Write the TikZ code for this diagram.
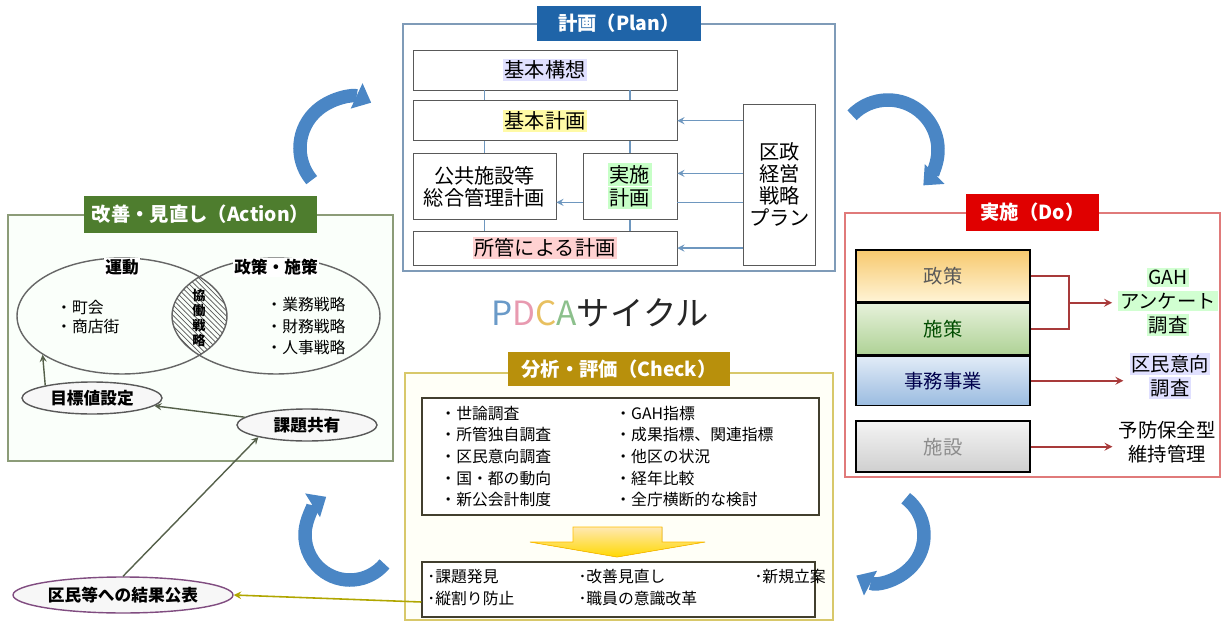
\documentclass[tikz,border=0pt]{standalone}
\usepackage{fontspec}
\setmainfont{Noto Sans CJK JP}
\usetikzlibrary{positioning,shapes.geometric,arrows.meta,patterns}

\definecolor{planblue}{HTML}{1F64A8}
\definecolor{planline}{HTML}{7F9BB8}
\definecolor{actgreen}{HTML}{4E7D2E}
\definecolor{actline}{HTML}{8C9C78}
\definecolor{dored}{HTML}{E00000}
\definecolor{doline}{HTML}{E07A7A}
\definecolor{chkgold}{HTML}{B8900C}
\definecolor{chkline}{HTML}{D8C86A}
\definecolor{cycblue}{HTML}{4A86C5}
\definecolor{linkblue}{HTML}{6E97BF}
\definecolor{linkred}{HTML}{A83A3A}
\definecolor{linkgray}{HTML}{55604A}
\definecolor{pdcaP}{HTML}{6A9AC8}
\definecolor{pdcaD}{HTML}{E89AB0}
\definecolor{pdcaC}{HTML}{E8C060}
\definecolor{pdcaA}{HTML}{8CC08C}
\definecolor{seiTop}{HTML}{F7C96E}
\definecolor{seiBot}{HTML}{FFF4D6}
\definecolor{shiTop}{HTML}{E6F1DA}
\definecolor{shiBot}{HTML}{AFD296}
\definecolor{jimTop}{HTML}{E2ECF7}
\definecolor{jimBot}{HTML}{9ABBE0}
\definecolor{setTop}{HTML}{F4F4F4}
\definecolor{setBot}{HTML}{CFCFCF}

\newcommand{\glowtext}[2]{{\setlength{\fboxsep}{1pt}\colorbox{#1}{#2}}}
\newcommand{\fsz}[2]{\fontsize{#1}{#2}\selectfont}

\begin{document}
\begin{tikzpicture}[
    x = 0.02cm, y = -0.02cm,
    >=stealth,
    boxframe/.style = {draw, line width=0.9pt, inner sep=0pt},
    titletab/.style = {text=white, inner sep=0pt, font=\bfseries\fsz{11}{13}},
    pbox/.style = {draw=gray!70!black, fill=white, inner sep=0pt, align=center, font=\fsz{11.5}{12.5}},
    plink/.style = {draw=linkblue, line width=0.8pt},
    dobox/.style = {draw=black, line width=0.8pt, minimum width=3.48cm, minimum height=1.02cm, inner sep=0pt, font=\fsz{11}{13}},
    dolink/.style = {draw=linkred, line width=1pt},
    dotext/.style = {align=center, font=\fsz{11}{13.5}},
    venn/.style = {ellipse, draw=gray!80!black, line width=0.8pt, inner sep=0pt},
    vennlabel/.style = {fill=white, inner sep=1pt, font=\bfseries\fsz{9.5}{11}},
    bubble/.style = {ellipse, draw=gray!70!black, fill=gray!6, line width=0.8pt, inner sep=0pt, font=\bfseries\fsz{9.5}{11}},
    alink/.style = {draw=linkgray, line width=0.8pt},
    chkbox/.style = {draw=black!70!olive, fill=white, line width=0.9pt, inner sep=0pt},
    chktext/.style = {align=left, font=\fsz{9}{12.3}},
    cyclearrow/.style = {draw=cycblue, line width=0.27cm, -{Triangle[width=0.56cm, length=0.32cm, line width=0pt]}}
  ]
\useasboundingbox (0,0) rectangle (1228,622);
% plan
\node[boxframe, draw=planline, minimum width=8.64cm, minimum height=4.94cm] (planfr) at (619,147.5) {};
\node[titletab, fill=planblue, minimum width=3.28cm, minimum height=0.7cm] (plantab) at (planfr.north) {計画（Plan）};
\node[pbox, minimum width=5.28cm, minimum height=0.8cm] (kousou) at (545,70) {\glowtext{blue!12}{基本構想}};
\node[pbox, minimum width=5.28cm, minimum height=0.8cm, below=0.2cm of kousou] (keikaku) {\glowtext{yellow!35}{基本計画}};
\node[pbox, minimum width=2.86cm, minimum height=1.32cm, below right=0.24cm and 0cm of keikaku.south west] (kokyo) {公共施設等\\総合管理計画};
\node[pbox, minimum width=1.88cm, minimum height=1.32cm, below left=0.24cm and 0cm of keikaku.south east] (jisshi) {\glowtext{green!22}{実施}\\\glowtext{green!22}{計画}};
\node[pbox, minimum width=5.28cm, minimum height=0.68cm, anchor=north] (shokan) at ([yshift=-0.22cm]keikaku |- kokyo.south) {\glowtext{red!18}{所管による計画}};
\node[pbox, minimum width=1.44cm, minimum height=3.22cm, anchor=south west] (senryaku) at ([xshift=1.32cm]shokan.south east) {区政\\経営\\戦略\\プラン};
% plan links
\foreach \n in {kokyo, jisshi} {
  \draw[plink] (kousou.south -| \n) -- (keikaku.north -| \n);
  \draw[plink] (keikaku.south -| \n) -- (\n.north);
  \draw[plink] (\n.south) -- (shokan.north -| \n);
}
\coordinate (jup) at ([yshift=0.26cm]jisshi.east);
\coordinate (jdn) at ([yshift=-0.32cm]jisshi.east);
\draw[plink, ->] (senryaku.west |- keikaku) -- (keikaku.east);
\draw[plink, ->] (senryaku.west |- jup) -- (jup);
\draw[plink] (senryaku.west |- jdn) -- (jdn);
\draw[plink, ->] (jdn -| jisshi.west) -- (jdn -| kokyo.east);
\draw[plink, ->] (senryaku.west |- shokan) -- (shokan.east);
% title
\node[font=\fsz{19}{22}] (pdca) at (600,313) {\textcolor{pdcaP}{P}\textcolor{pdcaD}{D}\textcolor{pdcaC}{C}\textcolor{pdcaA}{A}\textcolor{black!85}{サイクル}};
% action
\node[boxframe, draw=actline, fill=green!2, minimum width=7.7cm, minimum height=4.92cm] (actfr) at (200.5,338) {};
\node[titletab, fill=actgreen, minimum width=4.66cm, minimum height=0.74cm] (acttab) at (actfr.north) {改善・見直し（Action）};
\node[venn, minimum width=4.2cm, minimum height=2.32cm] (undou) at (122,316) {};
\node[venn, minimum width=4.16cm, minimum height=2.32cm] (sesaku) at (276,316) {};
\begin{scope}
  \clip (undou.center) ellipse[x radius=105, y radius=58];
  \fill[pattern=north west lines, pattern color=gray!70!black] (sesaku.center) ellipse[x radius=104, y radius=58];
\end{scope}
\node[vennlabel] at ([yshift=-0.2cm]undou.north) {運動};
\node[vennlabel] at ([yshift=-0.2cm]sesaku.north) {政策・施策};
\node[anchor=west, align=left, font=\fsz{9}{11}] (chiiki) at (50,317) {・町会\\・商店街};
\node[align=left, font=\fsz{9}{12}] (senryakus) at (306,326) {・業務戦略\\・財務戦略\\・人事戦略};
\node[align=center, font=\bfseries\fsz{7.5}{8.5}] (kyoudou) at (199,318) {協\\働\\戦\\略};
\node[bubble, minimum width=2.8cm, minimum height=0.64cm] (mokuhyou) at (92,398) {目標値設定};
\node[bubble, minimum width=2.8cm, minimum height=0.64cm] (kadai) at (307,425) {課題共有};
\node[bubble, draw=violet!40!gray, minimum width=4.4cm, minimum height=0.72cm] (kekka) at (123,595) {区民等への結果公表};
\draw[alink, ->] (mokuhyou.165) -- (undou.206);
\draw[alink, ->] (kadai) -- (mokuhyou);
\draw[alink, ->] (kekka.north) -- (kadai.194);
% do
\node[boxframe, draw=doline, minimum width=7.5cm, minimum height=5.28cm] (dofr) at (1032.5,345) {};
\node[titletab, fill=dored, minimum width=2.68cm, minimum height=0.74cm] (dotab) at (dofr.north) {実施（Do）};
\node[dobox, minimum height=1.04cm, top color=seiTop, bottom color=seiBot, text=black!65] (seisaku) at (943,276) {政策};
\node[dobox, below=0pt of seisaku, top color=shiTop, bottom color=shiBot, text=black!70!green] (shisaku) {施策};
\node[dobox, below=0pt of shisaku, minimum height=1.0cm, top color=jimTop, bottom color=jimBot, text=blue!30!black] (jimu) {事務事業};
\node[dobox, below=0.28cm of jimu, top color=setTop, bottom color=setBot, text=black!45] (shisetsu) {施設};
\node[dotext] (gah) at (1168,302) {\glowtext{green!18}{GAH}\\\glowtext{green!18}{アンケート}\\\glowtext{green!18}{調査}};
\node[dotext] (ikou) at (1170,376) {\glowtext{blue!12}{区民意向}\\\glowtext{blue!12}{調査}};
\node[dotext] (yobou) at (1167,442) {予防保全型\\維持管理};
\coordinate (brk) at ([xshift=0.76cm]seisaku.south east);
\draw[dolink] (seisaku.east) -| (brk) |- (shisaku.east);
\draw[dolink, ->] (brk) -- (brk -| gah.west);
\draw[dolink, ->] (jimu.east) -- (jimu.east -| ikou.west);
\draw[dolink, ->] (shisetsu.east) -- (shisetsu.east -| yobou.west);
% check
\node[boxframe, draw=chkline, fill=yellow!3, minimum width=8.56cm, minimum height=4.94cm] (chkfr) at (619,496.5) {};
\node[titletab, fill=chkgold, minimum width=4.44cm, minimum height=0.68cm] (chktab) at ([yshift=0.06cm]chkfr.north) {分析・評価（Check）};
\node[chkbox, minimum width=7.94cm, minimum height=2.34cm] (chk1) at (620.5,456.5) {};
\node[chktext, anchor=west] (chkL) at ([xshift=0.26cm]chk1.west) {・世論調査\\・所管独自調査\\・区民意向調査\\・国・都の動向\\・新公会計制度};
\node[chktext, anchor=west] (chkR) at ([xshift=3.76cm]chk1.west) {・GAH指標\\・成果指標、関連指標\\・他区の状況\\・経年比較\\・全庁横断的な検討};
\fill[top color=yellow!40!orange!30, bottom color=yellow!70!orange, draw=orange!50!yellow] (573,527) -- (662,527) -- (662,542) -- (705,542) -- (617,557) -- (530,542) -- (573,542) -- cycle;
\node[chkbox, minimum width=7.86cm, minimum height=1.1cm] (chk2) at (618.5,589.5) {};
\node[chktext, anchor=west, font=\fsz{9}{12.5}] (chkres) at (chk2.west) {\begin{tabular}{@{}p{2.6cm}p{3.1cm}l@{}}･課題発見 & ･改善見直し & ･新規立案\\･縦割り防止 & ･職員の意識改革 & \end{tabular}};
\draw[draw=olive!70!yellow, line width=0.9pt, ->] ([yshift=-0.25cm]chk2.west) -- (kekka.east);
% cycle arrows
\coordinate (cycAP) at (350,148);
\coordinate (cycPD) at (888,150);
\coordinate (cycDC) at (878,535);
\coordinate (cycCA) at (350,535);
\draw[cyclearrow] ([shift={(140:50)}]cycAP) arc[start angle=140, end angle=295, radius=50];
\draw[cyclearrow] ([shift={(224:50)}]cycPD) arc[start angle=224, end angle=405, radius=50];
\draw[cyclearrow] ([shift={(307:46)}]cycDC) arc[start angle=307, end angle=478, radius=46];
\draw[cyclearrow] ([shift={(40:45)}]cycCA) arc[start angle=40, end angle=238, radius=45];
\end{tikzpicture}
\end{document}
